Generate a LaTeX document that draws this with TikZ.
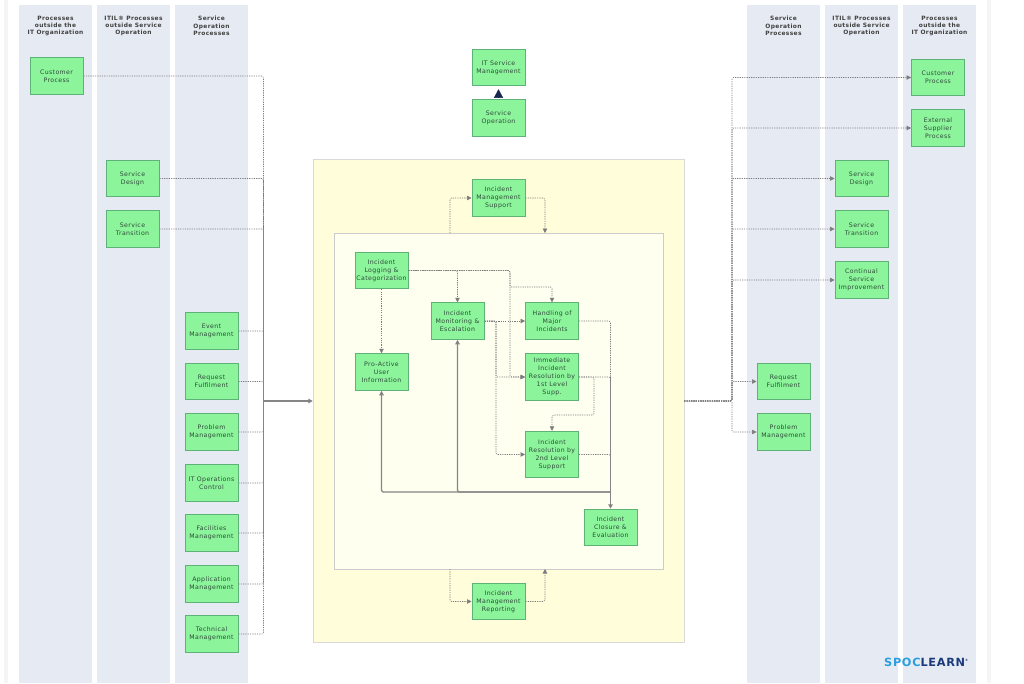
\documentclass[tikz,border=0pt]{standalone}
\usepackage{fontspec}
\setmainfont{DejaVu Sans}[LetterSpace=6]
\usetikzlibrary{arrows.meta}
\definecolor{lanefill}{HTML}{E6EAF2}
\definecolor{boxfill}{HTML}{8CF59B}
\definecolor{boxline}{HTML}{5FB277}
\definecolor{boxtext}{HTML}{2F4A3A}
\definecolor{outerfill}{HTML}{FFFDDA}
\definecolor{innerfill}{HTML}{FFFFF0}
\definecolor{flowline}{HTML}{7C7C7C}
\definecolor{trunkline}{HTML}{858585}
\definecolor{navytip}{HTML}{16264F}
\tikzset{
    procbox/.style={draw=boxline,line width=1pt,fill=boxfill,text=boxtext,minimum width=53pt,minimum height=36.5pt,inner sep=0pt,align=center,font=\fontsize{6.2}{7.9}\selectfont},
    tallbox/.style={procbox,minimum height=46.5pt},
    lanehead/.style={text=black!75,align=center,font=\fontsize{5.9}{7.4}\selectfont\bfseries},
    flow/.style={draw=flowline,line width=0.6pt,dash pattern=on 1.2pt off 1.1pt,rounded corners=1.5pt},
    flowtip/.style={flow,-{Triangle[length=4.5pt,width=4.5pt,fill=flowline]}},
    trunk/.style={draw=trunkline,line width=1.1pt,rounded corners=1.5pt},
    trunktip/.style={trunk,-{Triangle[length=4.5pt,width=4.5pt,fill=black!65]}},
}
\begin{document}
\begin{tikzpicture}[x=1pt,y=-1pt]
    \useasboundingbox (0,0) rectangle (1024,683);
    %% Page edges
    \fill[black!4] (4,0) rectangle (8,683);
    \fill[black!4] (987,0) rectangle (991,683);
    %% Lanes
    \foreach \lx in {19,97,175,747,825,903}
        \fill[lanefill] (\lx,5) rectangle (\lx+73,683);
    %% Lane titles
    \node[lanehead] (headA) at (55.5,26) {Processes\\outside the\\IT Organization};
    \node[lanehead] (headB) at (133.5,26) {ITIL® Processes\\outside Service\\Operation};
    \node[lanehead] (headC) at (211.5,26) {Service\\Operation\\Processes};
    \node[lanehead] (headD) at (783.5,26) {Service\\Operation\\Processes};
    \node[lanehead] (headE) at (861.5,26) {ITIL® Processes\\outside Service\\Operation};
    \node[lanehead] (headF) at (939.5,26) {Processes\\outside the\\IT Organization};
    %% Yellow areas
    \node[draw=black!15,fill=outerfill,minimum width=371pt,minimum height=483pt,inner sep=0pt] (outer) at (498.5,400.5) {};
    \node[draw=black!20,fill=innerfill,minimum width=329pt,minimum height=336pt,inner sep=0pt] (inner) at (498.5,401) {};
    %% Left boxes
    \foreach \name/\px/\py/\txt in {
        custL/56.5/76/{Customer\\Process},
        designL/132.5/178.5/{Service\\Design},
        transL/132.5/229/{Service\\Transition},
        eventL/211.5/331/{Event\\Management},
        requestL/211.5/381.5/{Request\\Fulfilment},
        problemL/211.5/432/{Problem\\Management},
        opsL/211.5/483/{IT Operations\\Control},
        facilL/211.5/533/{Facilities\\Management},
        applL/211.5/584/{Application\\Management},
        techL/211.5/634/{Technical\\Management}}
        \node[procbox] (\name) at (\px,\py) {\txt};
    %% Right boxes
    \foreach \name/\px/\py/\txt in {
        custR/938/77.5/{Customer\\Process},
        extR/938/128/{External\\Supplier\\Process},
        designR/861.5/178.5/{Service\\Design},
        transR/861.5/229/{Service\\Transition},
        improveR/861.5/280/{Continual\\Service\\Improvement},
        requestR/783.5/381.5/{Request\\Fulfilment},
        problemR/783.5/432/{Problem\\Management}}
        \node[procbox] (\name) at (\px,\py) {\txt};
    %% Middle boxes
    \foreach \name/\px/\py/\txt in {
        itsm/498.5/67.5/{IT Service\\Management},
        serviceop/498.5/118/{Service\\Operation},
        support/498.5/198/{Incident\\Management\\Support},
        reporting/498.5/601.5/{Incident\\Management\\Reporting},
        logging/381.5/270.5/{Incident\\Logging \&\\Categorization},
        monitoring/457.5/321/{Incident\\Monitoring \&\\Escalation},
        majors/552/321/{Handling of\\Major\\Incidents},
        proactive/381.5/372/{Pro-Active\\User\\Information},
        closure/610.5/527.5/{Incident\\Closure \&\\Evaluation}}
        \node[procbox] (\name) at (\px,\py) {\txt};
    \node[tallbox] (first) at (552,377) {Immediate\\Incident\\Resolution by\\1st Level\\Supp.};
    \node[tallbox] (second) at (552,454.5) {Incident\\Resolution by\\2nd Level\\Support};
    %% Navy tip between the top boxes
    \draw[navytip,line width=0.3pt,shorten >=3pt,shorten <=2.5pt,-{Triangle[length=8.5pt,width=9pt,fill=navytip]}] (serviceop.north) -- (itsm.south);
    %% Bus lines
    \coordinate (busL) at (263.5,401);
    \coordinate (busR) at (732,401);
    \foreach \from in {custL,designL,transL,eventL,requestL,problemL,opsL,facilL,applL,techL}
        \draw[flow] (\from.east) -- (\from.east -| busL) -- (busL);
    \draw[trunk] (busL |- transL.east) -- (busL |- facilL.east);
    \draw[trunktip] (busL) -- (outer.west |- busL);
    \foreach \to in {custR,extR,designR,transR,improveR,requestR,problemR}
        \draw[flowtip] (outer.east |- busR) -- (busR) -- (busR |- \to.west) -- (\to.west);
    %% Support and reporting
    \coordinate (inTop) at (450,233);
    \coordinate (outTop) at (545,233);
    \coordinate (inBot) at (450,569);
    \coordinate (outBot) at (545,569);
    \draw[flowtip] (inTop) |- (support.west);
    \draw[flowtip] (support.east) -| (outTop);
    \draw[flowtip] (inBot) |- (reporting.west);
    \draw[flowtip] (reporting.east) -| (outBot);
    %% Logging
    \coordinate (drop) at (510,287);
    \draw[flowtip] (logging.east) -| (monitoring.north);
    \draw[flowtip] (logging.south) -- (proactive.north);
    \draw[flowtip] (logging.east) -| (drop) -- (drop |- first.west) -- (first.west);
    \draw[flowtip] (logging.east) -| (drop) -| (majors.north);
    %% Monitoring
    \coordinate (split) at (496,321);
    \draw[flowtip] (monitoring.east) -- (majors.west);
    \draw[flowtip] (monitoring.east) -- (split) |- (first.west);
    \draw[flowtip] (monitoring.east) -- (split) |- (second.west);
    %% First level to second level
    \coordinate (hop) at (594,415);
    \draw[flowtip] (first.east) -| (hop) -| (second.north);
    %% Back to closure, monitoring and pro-active
    \coordinate (main) at (610.5,492);
    \foreach \from in {majors,first,second}
        \draw[flow] (\from.east) -| (main);
    \draw[trunktip] (first.east -| main) -- (closure.north);
    \draw[trunktip] (main) -| (monitoring.south);
    \draw[trunktip] (main) -| (proactive.south);
    %% Logo
    \node[anchor=west,inner sep=0pt,font=\fontsize{11.3}{12}\selectfont\bfseries] (logo) at (884,662.5) {\textcolor[HTML]{2A9FE0}{SPOC}\textcolor[HTML]{1B3A7A}{LEARN}\raisebox{5pt}{\textcolor[HTML]{1B3A7A}{\fontsize{3}{3}\selectfont ®}}};
\end{tikzpicture}
\end{document}
